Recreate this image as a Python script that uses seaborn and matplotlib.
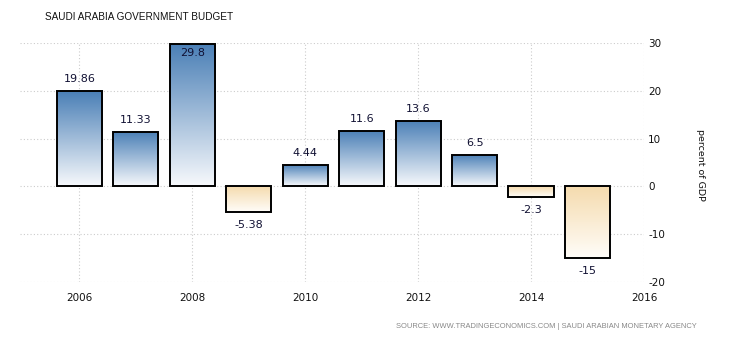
import numpy as np
import pandas as pd
import matplotlib
matplotlib.use("Agg")
import matplotlib.pyplot as plt
import seaborn as sns
from matplotlib.colors import LinearSegmentedColormap

years = [2006, 2007, 2008, 2009, 2010, 2011, 2012, 2013, 2014, 2015]
values = [19.86, 11.33, 29.8, -5.38, 4.44, 11.6, 13.6, 6.5, -2.3, -15]
labels = ["19.86", "11.33", "29.8", "-5.38", "4.44", "11.6", "13.6", "6.5", "-2.3", "-15"]
x_ticks = [2006, 2008, 2010, 2012, 2014, 2016]
y_ticks = [-20, -10, 0, 10, 20, 30]

sns.set_theme(style="white")
plt.rcParams['font.family'] = ['DejaVu Sans']

df = pd.DataFrame({"year": years, "value": values})
df["sign"] = np.where(df["value"] >= 0, "pos", "neg")

fig = plt.figure(figsize=(7.3, 3.4), dpi=100)
ax = fig.add_axes([20/730, 58/340, 624/730, 239/340])

sns.barplot(data=df, x="year", y="value", hue="sign", native_scale=True,
            palette={"pos": "#7fa6cc", "neg": "#f8e6c8"}, width=0.8,
            edgecolor="black", linewidth=1.4, legend=False, ax=ax, zorder=3)

blue = LinearSegmentedColormap.from_list("b", ["#f7f9fc", "#4a7fb6"])
orange = LinearSegmentedColormap.from_list("o", ["#fffdf9", "#f5dbae"])
grad = np.linspace(0, 1, 256).reshape(-1, 1)
for p in list(ax.patches):
    x0, y0 = p.get_x(), p.get_y()
    w, h = p.get_width(), p.get_height()
    if h == 0:
        continue
    ylo, yhi = min(y0, y0 + h), max(y0, y0 + h)
    cmap = blue if h > 0 else orange
    im = ax.imshow(grad, cmap=cmap, aspect="auto", origin="lower",
                   extent=[x0, x0 + w, ylo, yhi], zorder=3.5)
    im.set_clip_path(p)
    p.set_facecolor("none")
    p.set_zorder(4)

ppu = 239 / 50.0
for yr, v, lab in zip(years, values, labels):
    if v > 27:
        ax.text(yr, v - 9 / ppu, lab, ha="center", va="center", fontsize=8, color="#111133", zorder=6)
    elif v >= 0:
        ax.text(yr, v + 12 / ppu, lab, ha="center", va="center", fontsize=8, color="#111133", zorder=6)
    else:
        ax.text(yr, v - 13 / ppu, lab, ha="center", va="center", fontsize=8, color="#111133", zorder=6)

ax.set_xlim(2004.95, 2016)
ax.set_ylim(-20, 30)
ax.set_xticks(x_ticks)
ax.set_yticks(y_ticks)
ax.set_xticklabels([str(t) for t in x_ticks], fontsize=7.5, color="#111111")
ax.set_yticklabels([str(t) for t in y_ticks], fontsize=7.5, color="#111111")
ax.yaxis.tick_right()
ax.tick_params(axis="both", length=0)
ax.tick_params(axis="x", pad=8)
ax.tick_params(axis="y", pad=3)
ax.grid(True, color="#cccccc", linestyle=(0, (1, 2)), linewidth=0.8, zorder=0)
ax.set_axisbelow(True)
for s in ax.spines.values():
    s.set_visible(False)
ax.set_xlabel("")
ax.set_ylabel("")

fig.text(700/730, 1 - 165/340, "percent of GDP", rotation=270, ha="center", va="center",
         fontsize=6.8, color="#111111")
fig.text(45/730, 1 - 17/340, "SAUDI ARABIA GOVERNMENT BUDGET", ha="left", va="center",
         fontsize=7.2, color="#111111", family=["Liberation Sans", "DejaVu Sans"])
fig.text(697/730, 1 - 326/340, "SOURCE: WWW.TRADINGECONOMICS.COM | SAUDI ARABIAN MONETARY AGENCY",
         ha="right", va="center", fontsize=5.4, color="#888888", family=["Liberation Sans", "DejaVu Sans"])

fig.savefig("out.png", dpi=100)
